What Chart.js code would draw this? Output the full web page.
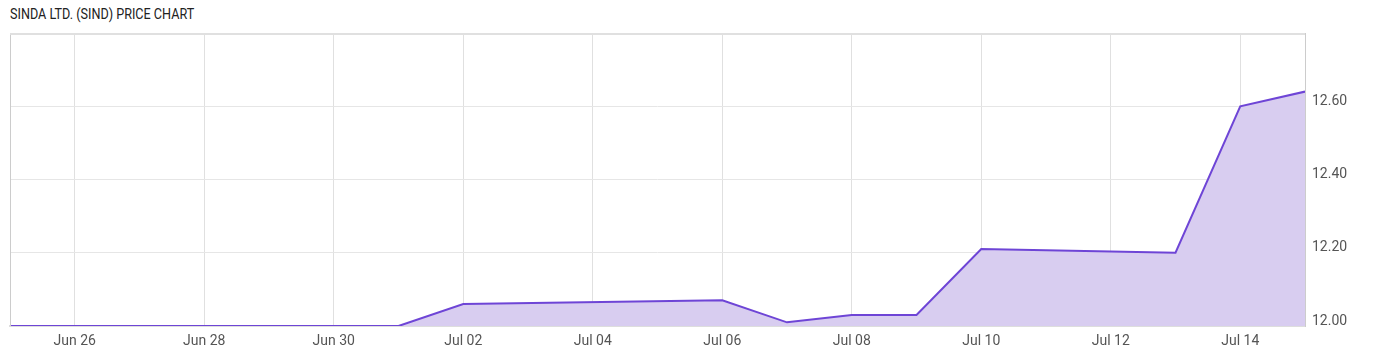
<!DOCTYPE html>
<html>
<head>
<meta charset="utf-8">
<script src="https://cdn.jsdelivr.net/npm/chart.js@4.4.1/dist/chart.umd.min.js"></script>
<style>
  body { margin: 0; background: #fff; }
  #title {
    position: absolute; left: 10px; top: 6px;
    font-family: Roboto, sans-serif; font-size: 14.5px; color: #222;
    transform: scaleX(0.87); transform-origin: left top; white-space: nowrap;
  }
  #wrap { position: absolute; left: 0; top: 0; width: 1400px; height: 357px; }
</style>
</head>
<body>
<div id="title">SINDA LTD. (SIND) PRICE CHART</div>
<div id="wrap"><canvas id="priceChart"></canvas></div>
<script>
// trading days and closing prices
var dates = ['2020-06-25', '2020-06-26', '2020-06-29', '2020-06-30', '2020-07-01', '2020-07-02',
  '2020-07-06', '2020-07-07', '2020-07-08', '2020-07-09', '2020-07-10', '2020-07-13',
  '2020-07-14', '2020-07-15'];
var prices = [12.00, 12.00, 12.00, 12.00, 12.00, 12.06, 12.07, 12.01, 12.03, 12.03, 12.21, 12.20, 12.60, 12.64];

var xTickLabels = ['Jun 26', 'Jun 28', 'Jun 30', 'Jul 02', 'Jul 04', 'Jul 06', 'Jul 08', 'Jul 10', 'Jul 12', 'Jul 14'];
var xTickDates = ['2020-06-26', '2020-06-28', '2020-06-30', '2020-07-02', '2020-07-04', '2020-07-06',
  '2020-07-08', '2020-07-10', '2020-07-12', '2020-07-14'];
var yTicks = [12.00, 12.20, 12.40, 12.60];

var start = Date.parse(dates[0]);
function dayIndex(d) { return Math.round((Date.parse(d) - start) / 86400000); }

var points = dates.map(function (d, i) { return { x: dayIndex(d), y: prices[i] }; });
var xTickPos = xTickDates.map(dayIndex);

var ctx = document.getElementById('priceChart');

var myChart = new Chart(ctx, {
  type: 'line',
  data: {
    datasets: [{
      data: points,
      borderColor: '#6e45d6',
      backgroundColor: '#d8cdf0',
      borderWidth: 2,
      fill: 'start',
      pointRadius: 0,
      tension: 0
    }]
  },
  options: {
    responsive: true,
    maintainAspectRatio: false,
    animation: false,
    layout: { padding: { top: 33, left: 10, right: 0, bottom: 0 } },
    plugins: { legend: { display: false }, tooltip: { enabled: false } },
    scales: {
      x: {
        type: 'linear',
        min: 0,
        max: dayIndex(dates[dates.length - 1]),
        afterBuildTicks: function (axis) {
          axis.ticks = xTickPos.map(function (v) { return { value: v }; });
        },
        afterFit: function (axis) { axis.height = 31; },
        ticks: {
          autoSkip: false,
          maxRotation: 0,
          padding: 7,
          color: '#555',
          font: { family: 'Roboto', size: 14 },
          callback: function (v) {
            var i = xTickPos.indexOf(v);
            return i >= 0 ? xTickLabels[i] : '';
          }
        },
        grid: { color: '#e0e0e0', drawTicks: false },
        border: { color: '#dddddd', width: 2 }
      },
      y: {
        position: 'right',
        min: 12.0,
        max: 12.8,
        afterBuildTicks: function (axis) {
          axis.ticks = yTicks.concat([12.8]).map(function (v) { return { value: v }; });
        },
        afterFit: function (axis) { axis.width = 95; },
        ticks: {
          padding: 7,
          labelOffset: -5,
          color: '#555',
          font: { family: 'Roboto', size: 14 },
          callback: function (v) { return v < 12.7 ? v.toFixed(2) : ''; }
        },
        grid: { color: '#e6e6e6', drawTicks: false },
        border: { color: '#cccccc', width: 1 }
      }
    }
  },
  plugins: [{
    id: 'frame',
    afterDraw: function (chart) {
      var a = chart.chartArea, c = chart.ctx;
      c.save();
      c.strokeStyle = '#cccccc';
      c.lineWidth = 1;
      c.beginPath();
      c.moveTo(a.left + 0.5, a.top);
      c.lineTo(a.left + 0.5, a.bottom);
      c.stroke();
      c.strokeStyle = '#e0e0e0';
      c.lineWidth = 2;
      c.beginPath();
      c.moveTo(a.left, a.top + 1);
      c.lineTo(a.right, a.top + 1);
      c.stroke();
      c.restore();
    }
  }]
});
</script>
</body>
</html>
